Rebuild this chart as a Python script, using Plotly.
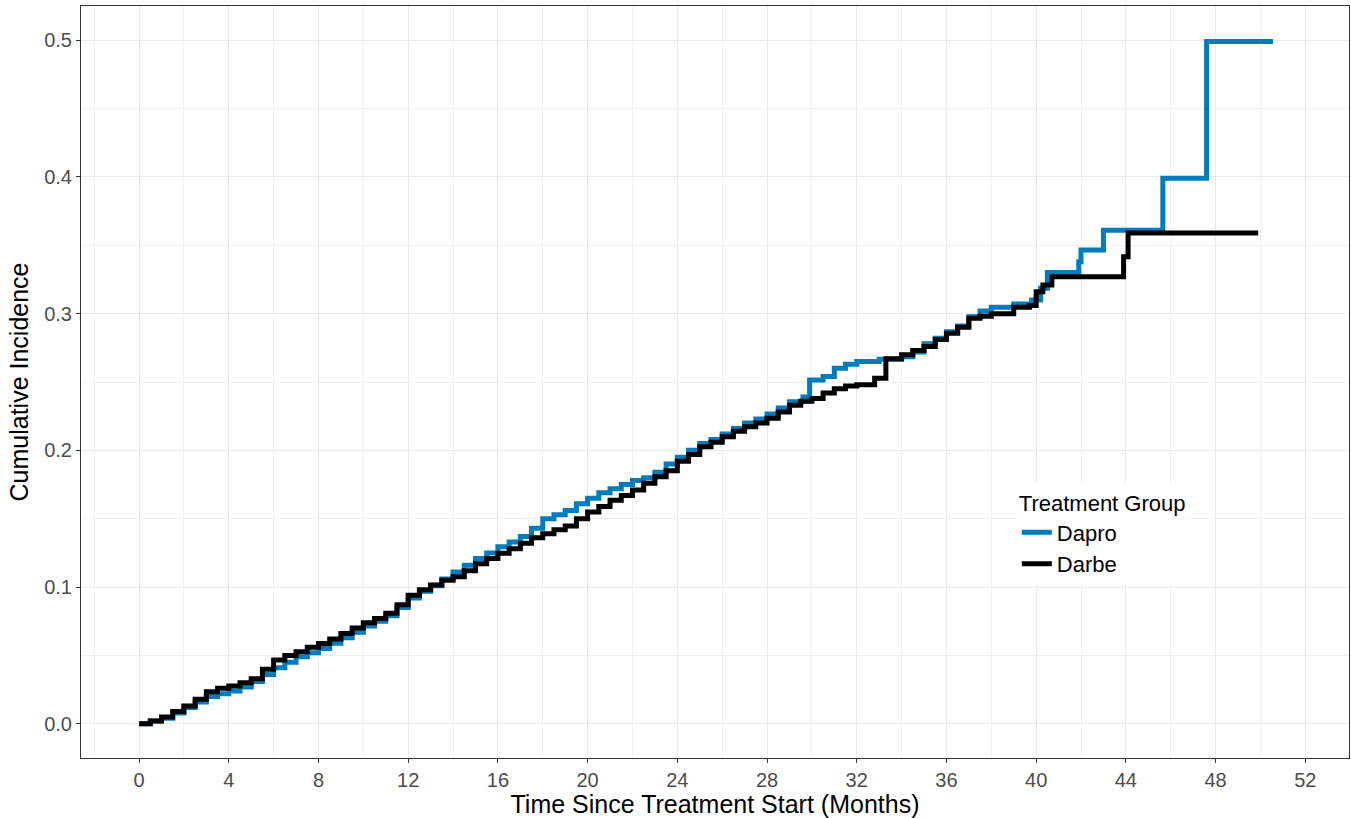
import plotly.graph_objects as go

# Dapro (blue) cumulative incidence
dapro_t = [0, 0.5, 1, 1.5, 2, 2.5, 3, 3.5, 4, 4.5, 5, 5.5, 6, 6.5, 7, 7.5, 8, 8.5, 9, 9.5, 10, 10.5, 11, 11.5, 12,
           12.5, 13, 13.5, 14, 14.5, 15, 15.5, 16, 16.5, 17, 17.5, 18, 18.5, 19, 19.5, 20, 20.5, 21, 21.5, 22, 22.5,
           23, 23.5, 24, 24.5, 25, 25.5, 26, 26.5, 27, 27.5, 28, 28.5, 29, 29.6, 29.9, 30.5, 31, 31.5, 32, 33, 34,
           34.5, 35, 35.5, 36, 36.5, 37, 37.5, 38, 39, 39.8, 40.2, 40.5, 41.9, 42.0, 43.0, 45.65, 47.6, 50.56]
dapro_v = [0.0, 0.002, 0.004, 0.008, 0.012, 0.016, 0.020, 0.022, 0.024, 0.027, 0.031, 0.036, 0.041, 0.045, 0.049, 0.052,
           0.055, 0.059, 0.063, 0.067, 0.0715, 0.075, 0.079, 0.085, 0.092, 0.097, 0.101, 0.106, 0.111, 0.116, 0.121,
           0.125, 0.1295, 0.133, 0.137, 0.143, 0.150, 0.153, 0.156, 0.161, 0.165, 0.169, 0.172, 0.175, 0.178, 0.180,
           0.184, 0.190, 0.195, 0.200, 0.205, 0.208, 0.212, 0.216, 0.220, 0.223, 0.2266, 0.231, 0.2356, 0.239, 0.2514,
           0.254, 0.260, 0.263, 0.265, 0.2666, 0.2685, 0.272, 0.278, 0.282, 0.2868, 0.291, 0.2977, 0.302, 0.3046,
           0.307, 0.310, 0.3185, 0.330, 0.338, 0.3465, 0.361, 0.399, 0.499, 0.499]

# Darbe (black) cumulative incidence
darbe_t = [0, 0.5, 1, 1.5, 2, 2.5, 3, 3.5, 4, 4.5, 5, 5.5, 6, 6.5, 7, 7.5, 8, 8.5, 9, 9.5, 10, 10.5, 11, 11.5, 12,
           12.5, 13, 13.5, 14, 14.5, 15, 15.5, 16, 16.5, 17, 17.5, 18, 18.5, 19, 19.5, 20, 20.5, 21, 21.5, 22, 22.5,
           23, 23.5, 24, 24.5, 25, 25.5, 26, 26.5, 27, 27.5, 28, 28.5, 29, 29.5, 30, 30.5, 31, 31.5, 32, 32.8, 33.3,
           34, 34.5, 35, 35.5, 36, 36.5, 37, 37.5, 38, 39, 39.7, 40.0, 40.3, 40.7, 43.9, 44.1, 49.9]
darbe_v = [0.0, 0.002, 0.005, 0.009, 0.013, 0.018, 0.0234, 0.026, 0.0276, 0.030, 0.033, 0.040, 0.0466, 0.050, 0.0527,
           0.056, 0.0588, 0.062, 0.066, 0.070, 0.0739, 0.077, 0.0808, 0.087, 0.094, 0.098, 0.1015, 0.105, 0.1075,
           0.112, 0.117, 0.121, 0.1247, 0.128, 0.132, 0.136, 0.139, 0.142, 0.1446, 0.150, 0.155, 0.159, 0.1636, 0.167,
           0.171, 0.176, 0.1807, 0.185, 0.192, 0.197, 0.2026, 0.206, 0.210, 0.214, 0.2173, 0.220, 0.2234, 0.228,
           0.233, 0.236, 0.238, 0.242, 0.245, 0.247, 0.248, 0.2527, 0.267, 0.270, 0.273, 0.276, 0.281, 0.2856,
           0.290, 0.2966, 0.298, 0.300, 0.3046, 0.306, 0.316, 0.321, 0.327, 0.3416, 0.359, 0.359]

x_ticks = list(range(0, 53, 4))
y_ticks = [0.0, 0.1, 0.2, 0.3, 0.4, 0.5]
y_tick_text = ["0.0", "0.1", "0.2", "0.3", "0.4", "0.5"]

FONT = "Liberation Sans, Arial, sans-serif"

fig = go.Figure()
fig.add_trace(go.Scatter(x=dapro_t, y=dapro_v, mode="lines", name="Dapro",
                         line=dict(color="#007BBB", width=5, shape="hv")))
fig.add_trace(go.Scatter(x=darbe_t, y=darbe_v, mode="lines", name="Darbe",
                         line=dict(color="#000000", width=5, shape="hv")))

axis_common = dict(
    showline=True, linecolor="#333333", linewidth=1, mirror=True,
    ticks="outside", ticklen=4, tickcolor="#333333", tickwidth=1,
    showgrid=True, gridcolor="#EBEBEB", gridwidth=1,
    zeroline=False,
    tickfont=dict(family=FONT, size=20, color="#4D4D4D"),
)

fig.update_layout(
    width=1351, height=818,
    margin=dict(l=81, r=2, t=6, b=60),
    paper_bgcolor="white", plot_bgcolor="white",
    font=dict(family=FONT),
    xaxis=dict(range=[-2.59, 53.95], tickvals=x_ticks, ticktext=[str(v) for v in x_ticks],
               minor=dict(dtick=2, tick0=0, showgrid=True, gridcolor="#F0F0F0", gridwidth=1, ticks=""),
               title=dict(text="Time Since Treatment Start (Months)",
                          font=dict(family=FONT, size=25, color="black"), standoff=4),
               **axis_common),
    yaxis=dict(range=[-0.025, 0.525], tickvals=y_ticks, ticktext=y_tick_text,
               minor=dict(dtick=0.05, tick0=0, showgrid=True, gridcolor="#F0F0F0", gridwidth=1, ticks=""),
               title=dict(text="Cumulative Incidence",
                          font=dict(family=FONT, size=25, color="black"), standoff=8),
               **axis_common),
    legend=dict(x=0.738, y=0.366, xanchor="left", yanchor="top",
                bgcolor="white", borderwidth=0,
                title=dict(text="Treatment Group", font=dict(family=FONT, size=22, color="black")),
                font=dict(family=FONT, size=22, color="black"),
                itemwidth=30, tracegroupgap=0),
    showlegend=True,
)

fig.write_html("out.html")
